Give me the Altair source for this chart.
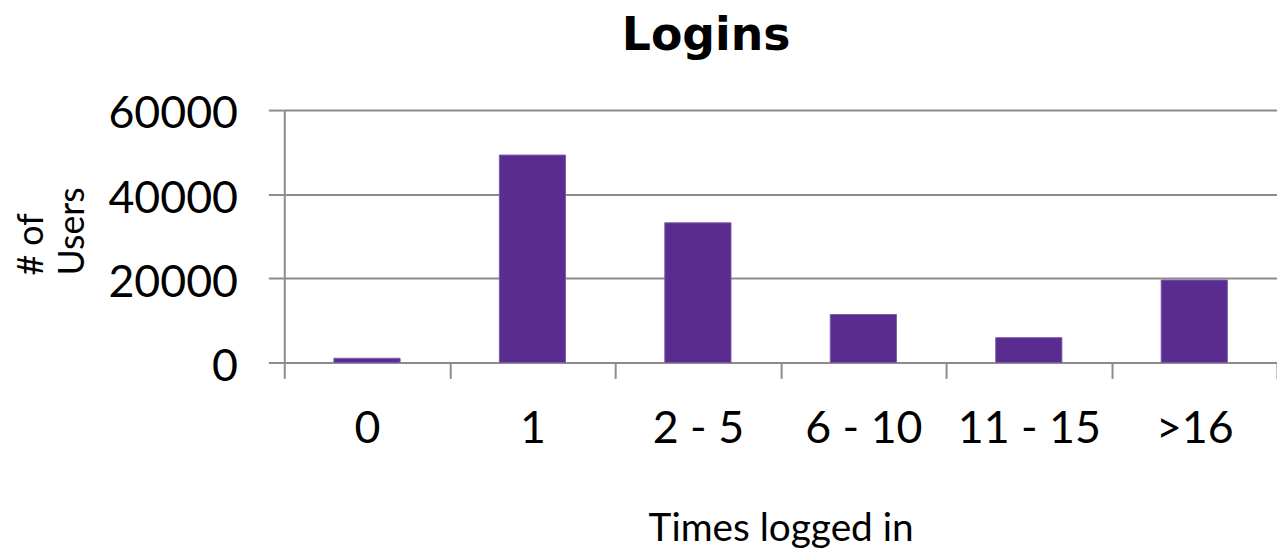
import altair as alt
import pandas as pd

categories = ["0", "1", "2 - 5", "6 - 10", "11 - 15", ">16"]
users = [1000, 49300, 33200, 11400, 5900, 19600]
y_ticks = [0, 20000, 40000, 60000]

df = pd.DataFrame({"times": categories, "users": users})

FONT = "Lato"
GRID = "#8c8c8c"

chart = (
    alt.Chart(df)
    .mark_bar(color="#5B2C8F", stroke="#7E5AAE", strokeWidth=1,
              width=alt.RelativeBandSize(0.4))
    .encode(
        x=alt.X(
            "times:N",
            sort=categories,
            scale=alt.Scale(paddingInner=0, paddingOuter=0),
            axis=alt.Axis(
                title="Times logged in",
                labelAngle=0,
                labelFont=FONT,
                labelFontSize=45,
                labelColor="#000000",
                labelPadding=29,
                tickBand="extent",
                tickSize=16,
                tickWidth=2,
                tickColor=GRID,
                domainColor=GRID,
                domainWidth=2,
                titleFont=FONT,
                titleFontSize=39,
                titleFontWeight="normal",
                titleColor="#000000",
                titleBaseline="alphabetic",
                titleY=179,
                grid=False,
            ),
        ),
        y=alt.Y(
            "users:Q",
            scale=alt.Scale(domain=[0, 60000], nice=False),
            axis=alt.Axis(
                values=y_ticks,
                format="d",
                title=["# of", "Users"],
                titleAngle=270,
                titleAlign="left",
                titleBaseline="alphabetic",
                titleX=-243,
                titleY=166,
                titleLineHeight=41,
                titleFont=FONT,
                titleFontSize=36,
                titleFontWeight="normal",
                titleColor="#000000",
                labelFont=FONT,
                labelFontSize=45,
                labelColor="#000000",
                labelPadding=31,
                labelOffset=4,
                tickSize=16,
                tickWidth=2,
                tickColor=GRID,
                domainColor=GRID,
                domainWidth=2,
                grid=True,
                gridColor=GRID,
                gridWidth=2,
            ),
        ),
    )
    .properties(
        width=999,
        height=254,
        title=alt.TitleParams(
            "Logins",
            font="DejaVu Sans",
            fontSize=46,
            fontWeight="bold",
            color="#000000",
            anchor="middle",
            dx=-75,
            dy=-28,
        ),
        autosize=alt.AutoSizeParams(type="none"),
        padding={"left": 278, "top": 101, "right": 0, "bottom": 189},
    )
    .configure_view(stroke=None)
    .configure(background="#ffffff")
)

chart.save("out.html", embed_options={"renderer": "svg", "actions": False})
